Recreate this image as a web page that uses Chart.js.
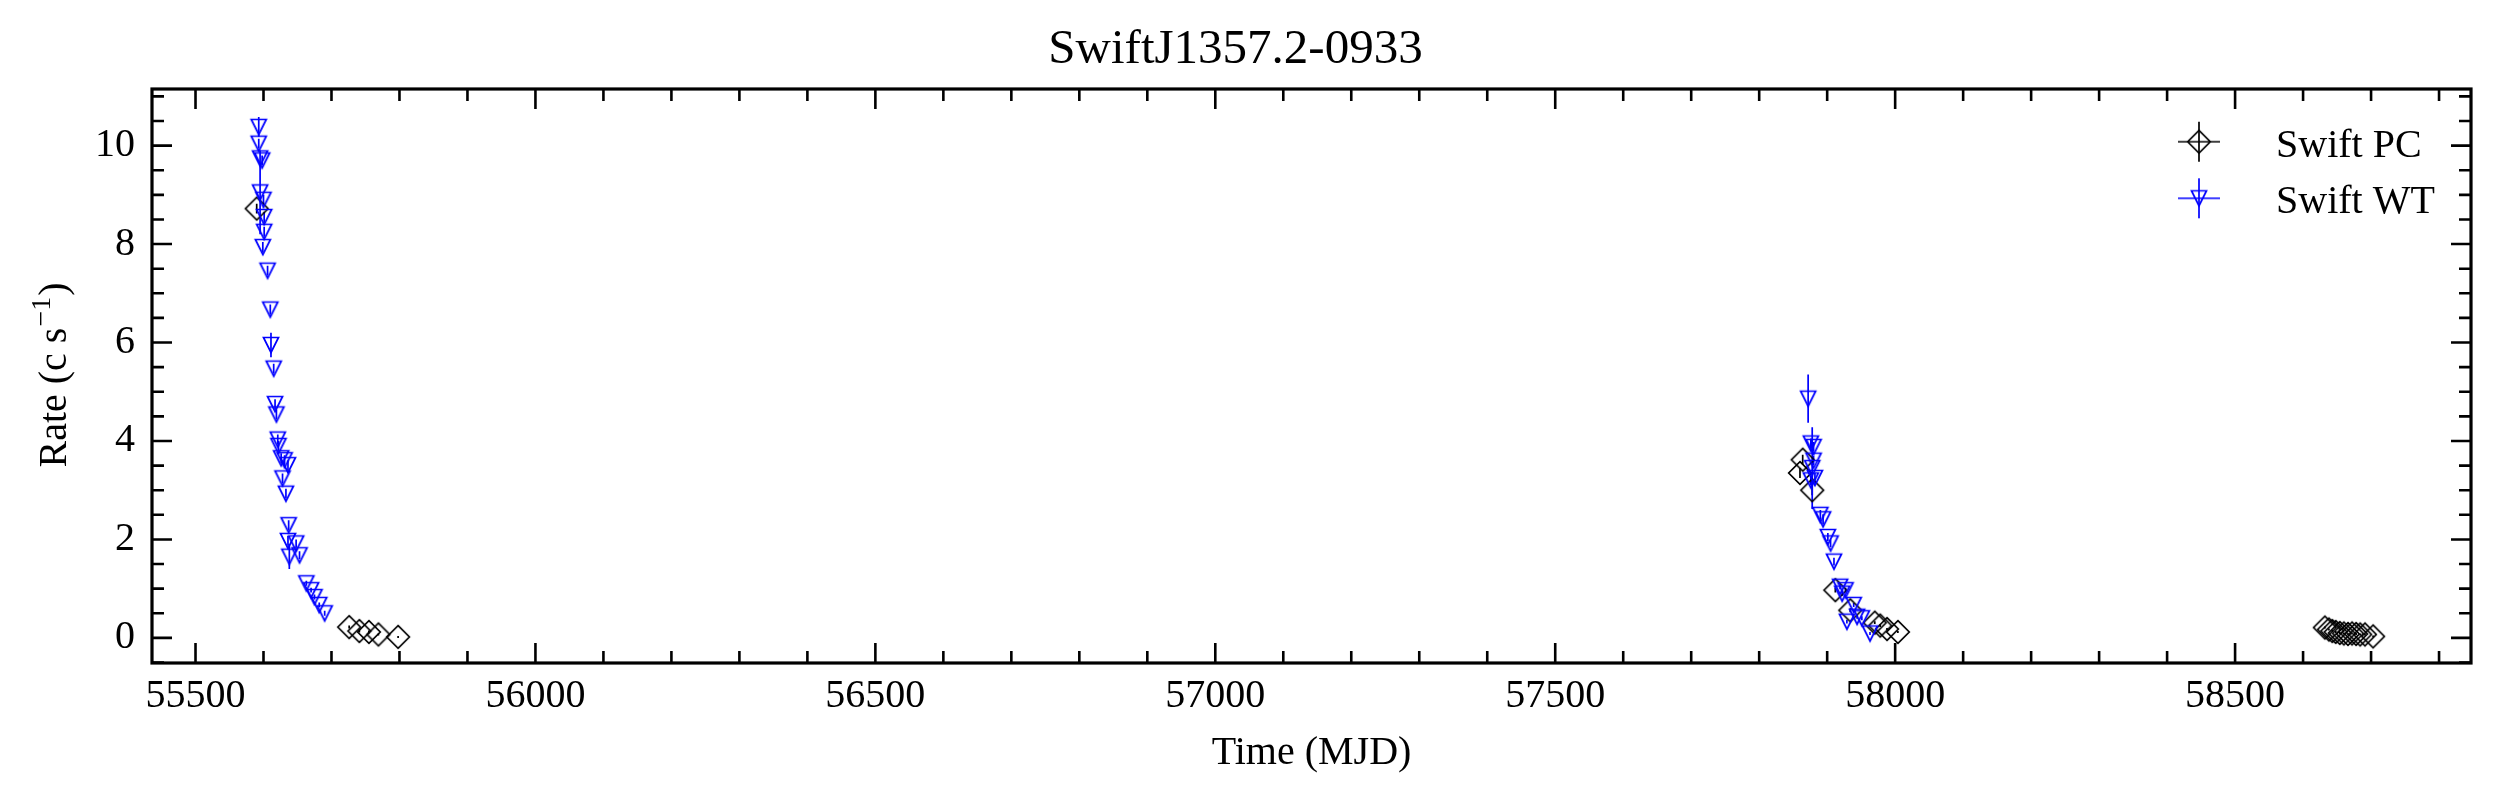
<!DOCTYPE html>
<html>
<head>
<meta charset="utf-8">
<script src="https://cdn.jsdelivr.net/npm/chart.js@4/dist/chart.umd.min.js"></script>
<style>
  html, body { margin: 0; padding: 0; background: #fff; }
  canvas { display: block; }
</style>
</head>
<body>
<canvas id="chart" width="2506" height="804"></canvas>
<script>
// Swift XRT light curve, PC and WT modes
var pcTime = [55590, 55726, 55741, 55755, 55769, 55798,
  57864, 57860, 57878, 57912, 57934, 57970, 57978, 57988, 58004,
  58632, 58638, 58643, 58648, 58654, 58660, 58666, 58672, 58678, 58684, 58691, 58703];
var pcRate = [8.72, 0.22, 0.14, 0.12, 0.07, 0.02,
  3.62, 3.35, 3.0, 0.97, 0.56, 0.31, 0.25, 0.18, 0.12,
  0.21, 0.17, 0.14, 0.12, 0.1, 0.09, 0.08, 0.09, 0.08, 0.07, 0.07, 0.03];
var pcErr = [0.1, 0.03, 0.03, 0.03, 0.02, 0.02,
  0.1, 0.1, 0.1, 0.05, 0.04, 0.03, 0.03, 0.02, 0.02,
  0.02, 0.02, 0.02, 0.02, 0.02, 0.02, 0.02, 0.02, 0.02, 0.02, 0.02, 0.02];

var wtTime = [55593, 55593, 55595, 55598, 55595, 55600, 55601, 55601, 55599, 55606,
  55610, 55611, 55615, 55617, 55619, 55621, 55622, 55626, 55631, 55636,
  55628, 55633, 55637, 55636, 55648, 55653, 55638, 55663, 55670, 55675,
  55682, 55690,
  57872, 57876, 57880, 57880, 57878, 57876, 57882, 57890, 57894, 57901,
  57905, 57910, 57919, 57927, 57922, 57939, 57929, 57944, 57951, 57963];
var wtRate = [10.38, 10.04, 9.74, 9.7, 9.05, 8.9, 8.55, 8.25, 7.94, 7.46,
  6.67, 5.95, 5.47, 4.75, 4.54, 4.03, 3.9, 3.65, 3.61, 3.51,
  3.24, 2.93, 2.29, 1.97, 1.92, 1.68, 1.65, 1.11, 0.97, 0.83,
  0.67, 0.5,
  4.86, 3.95, 3.88, 3.6, 3.45, 3.2, 3.25, 2.5, 2.41, 2.05,
  1.92, 1.55, 1.04, 0.97, 0.9, 0.67, 0.33, 0.43, 0.4, 0.09];
var wtErr = [0.2, 0.1, 0.1, 0.1, 0.85, 0.1, 0.1, 0.1, 0.1, 0.1,
  0.1, 0.25, 0.1, 0.1, 0.1, 0.1, 0.1, 0.1, 0.1, 0.1,
  0.1, 0.1, 0.1, 0.1, 0.08, 0.08, 0.25, 0.05, 0.05, 0.05,
  0.05, 0.05,
  0.49, 0.1, 0.1, 0.1, 0.83, 0.1, 0.1, 0.1, 0.1, 0.08,
  0.08, 0.08, 0.05, 0.05, 0.05, 0.04, 0.04, 0.04, 0.04, 0.03];

var seriesNames = ["Swift PC", "Swift WT"];
var seriesColors = ["#000000", "#0000ff"];

var xTicks = [55500, 56000, 56500, 57000, 57500, 58000, 58500];
var yTicks = [0, 2, 4, 6, 8, 10];
var xMin = 55436, xMax = 58847, xMinor = 100;
var yMin = -0.51, yMax = 11.15, yMinor = 0.5;

// pick the first serif face that is really installed
function pickFont(list) {
  var c = document.createElement("canvas").getContext("2d");
  var probe = "SwiftJ1357.2-0933 Time (MJD) WWmmii";
  c.font = "40px monospace";
  var base = c.measureText(probe).width;
  c.font = "40px sans-serif";
  var base2 = c.measureText(probe).width;
  for (var i = 0; i < list.length; i++) {
    c.font = "40px '" + list[i] + "', monospace";
    var w1 = c.measureText(probe).width;
    c.font = "40px '" + list[i] + "', sans-serif";
    var w2 = c.measureText(probe).width;
    if (w1 !== base || w2 !== base2) {
      return "'" + list[i] + "', serif";
    }
  }
  return "serif";
}
var FONT = pickFont(["Liberation Serif", "Times New Roman", "Tinos", "Nimbus Roman", "DejaVu Serif", "Noto Serif"]);

function makeMarker(kind, color, withCross) {
  var c = document.createElement("canvas");
  var size = withCross ? 46 : 28;
  c.width = size;
  c.height = size;
  var g = c.getContext("2d");
  var m = size / 2;
  g.strokeStyle = color;
  g.lineWidth = 1.7;
  g.beginPath();
  if (kind === "diamond") {
    var r = 11.3;
    g.moveTo(m, m - r);
    g.lineTo(m + r, m);
    g.lineTo(m, m + r);
    g.lineTo(m - r, m);
    g.closePath();
  } else {
    var h = 7.5;
    g.moveTo(m - h, m - h);
    g.lineTo(m + h, m - h);
    g.lineTo(m, m + h);
    g.closePath();
  }
  g.stroke();
  if (withCross) {
    g.beginPath();
    g.moveTo(m - 21, m);
    g.lineTo(m + 21, m);
    g.moveTo(m, m - 20);
    g.lineTo(m, m + 20);
    g.stroke();
  }
  return c;
}

var pcMarker = makeMarker("diamond", seriesColors[0], false);
var wtMarker = makeMarker("triangle", seriesColors[1], false);
var legendMarkers = [
  makeMarker("diamond", seriesColors[0], true),
  makeMarker("triangle", seriesColors[1], true)
];

function toPoints(xs, ys) {
  return xs.map(function(x, i) {
    return { x: x, y: ys[i] };
  });
}

var errors = [pcErr, wtErr];

// error bars, drawn under the markers
var errorBarPlugin = {
  id: "errorBars",
  beforeDatasetsDraw: function(chart) {
    var ctx = chart.ctx;
    var xs = chart.scales.x;
    var ys = chart.scales.y;
    ctx.save();
    chart.data.datasets.forEach(function(ds, di) {
      ctx.strokeStyle = seriesColors[di];
      ctx.lineWidth = 1.7;
      ctx.beginPath();
      ds.data.forEach(function(p, i) {
        var px = xs.getPixelForValue(p.x);
        ctx.moveTo(px, ys.getPixelForValue(p.y + errors[di][i]));
        ctx.lineTo(px, ys.getPixelForValue(p.y - errors[di][i]));
      });
      ctx.stroke();
    });
    ctx.restore();
  }
};

function isMajor(v, list) {
  return list.some(function(t) { return Math.abs(t - v) < 1e-6; });
}

// frame, inward ticks on all sides, y title, legend
var framePlugin = {
  id: "frame",
  afterDraw: function(chart) {
    var ctx = chart.ctx;
    var a = chart.chartArea;
    var xs = chart.scales.x;
    var ys = chart.scales.y;
    ctx.save();
    ctx.strokeStyle = "#000";

    ctx.lineWidth = 2.6;
    ctx.beginPath();
    var v, p, len, k;
    for (k = Math.ceil(xMin / xMinor); k * xMinor <= xMax; k++) {
      v = k * xMinor;
      p = xs.getPixelForValue(v);
      len = isMajor(v, xTicks) ? 20 : 12;
      ctx.moveTo(p, a.bottom);
      ctx.lineTo(p, a.bottom - len);
      ctx.moveTo(p, a.top);
      ctx.lineTo(p, a.top + len);
    }
    for (k = Math.ceil(yMin / yMinor); k * yMinor <= yMax; k++) {
      v = k * yMinor;
      p = ys.getPixelForValue(v);
      len = isMajor(v, yTicks) ? 20 : 12;
      ctx.moveTo(a.left, p);
      ctx.lineTo(a.left + len, p);
      ctx.moveTo(a.right, p);
      ctx.lineTo(a.right - len, p);
    }
    ctx.stroke();

    ctx.lineWidth = 3.2;
    ctx.strokeRect(a.left, a.top, a.right - a.left, a.bottom - a.top);

    // y axis title with superscript
    ctx.fillStyle = "#000";
    ctx.translate(66, (a.top + a.bottom) / 2);
    ctx.rotate(-Math.PI / 2);
    ctx.textBaseline = "alphabetic";
    ctx.textAlign = "left";
    var big = "40px " + FONT, small = "28px " + FONT;
    ctx.font = big;
    var w1 = ctx.measureText("Rate (c s").width;
    var w3 = ctx.measureText(")").width;
    ctx.font = small;
    var w2 = ctx.measureText("\u22121").width;
    var x0 = -(w1 + w2 + w3) / 2;
    ctx.font = big;
    ctx.fillText("Rate (c s", x0, 0);
    ctx.font = small;
    ctx.fillText("\u22121", x0 + w1 + 1, -16);
    ctx.font = big;
    ctx.fillText(")", x0 + w1 + w2 + 2, 0);
    ctx.restore();

    // legend
    ctx.save();
    ctx.font = "40px " + FONT;
    ctx.fillStyle = "#000";
    ctx.textBaseline = "alphabetic";
    var rowY = [141.7, 198.3];
    seriesNames.forEach(function(name, i) {
      var mk = legendMarkers[i];
      ctx.drawImage(mk, 2199 - mk.width / 2, rowY[i] - mk.height / 2);
      ctx.fillText(name, 2276, rowY[i] + 15);
    });
    ctx.restore();
  }
};

Chart.defaults.font.family = FONT;
Chart.defaults.color = "#000";

var chart = new Chart(document.getElementById("chart").getContext("2d"), {
  type: "scatter",
  data: {
    datasets: [
      {
        label: seriesNames[0],
        data: toPoints(pcTime, pcRate),
        pointStyle: pcMarker,
        pointRadius: 10,
        borderColor: seriesColors[0],
        order: 2
      },
      {
        label: seriesNames[1],
        data: toPoints(wtTime, wtRate),
        pointStyle: wtMarker,
        pointRadius: 10,
        borderColor: seriesColors[1],
        order: 1
      }
    ]
  },
  options: {
    responsive: false,
    animation: false,
    devicePixelRatio: 1,
    layout: { padding: { left: 0, right: 35, top: 0, bottom: 0 } },
    plugins: {
      legend: { display: false },
      tooltip: { enabled: false },
      title: {
        display: true,
        text: "SwiftJ1357.2-0933",
        color: "#000",
        font: { size: 49, weight: "normal", family: FONT, lineHeight: 1.2 },
        padding: { top: 20.8, bottom: 9.4 }
      }
    },
    scales: {
      x: {
        type: "linear",
        position: "bottom",
        min: xMin,
        max: xMax,
        grid: { display: false, drawTicks: false },
        border: { display: false },
        afterBuildTicks: function(scale) {
          scale.ticks = xTicks.map(function(v) { return { value: v }; });
        },
        ticks: {
          autoSkip: false,
          maxRotation: 0,
          padding: 9.5,
          font: { size: 40, family: FONT },
          color: "#000",
          callback: function(v) { return String(v); }
        },
        title: {
          display: true,
          text: "Time (MJD)",
          color: "#000",
          font: { size: 40, family: FONT, lineHeight: 1.2 },
          padding: { top: 0, bottom: 26.8 }
        },
        afterFit: function(scale) { scale.height = 141; }
      },
      y: {
        type: "linear",
        position: "left",
        min: yMin,
        max: yMax,
        grid: { display: false, drawTicks: false },
        border: { display: false },
        afterBuildTicks: function(scale) {
          scale.ticks = yTicks.map(function(v) { return { value: v }; });
        },
        ticks: {
          autoSkip: false,
          padding: 17,
          font: { size: 40, family: FONT },
          color: "#000",
          callback: function(v) { return String(v); }
        },
        afterFit: function(scale) { scale.width = 152; }
      }
    }
  },
  plugins: [errorBarPlugin, framePlugin]
});
</script>
</body>
</html>
